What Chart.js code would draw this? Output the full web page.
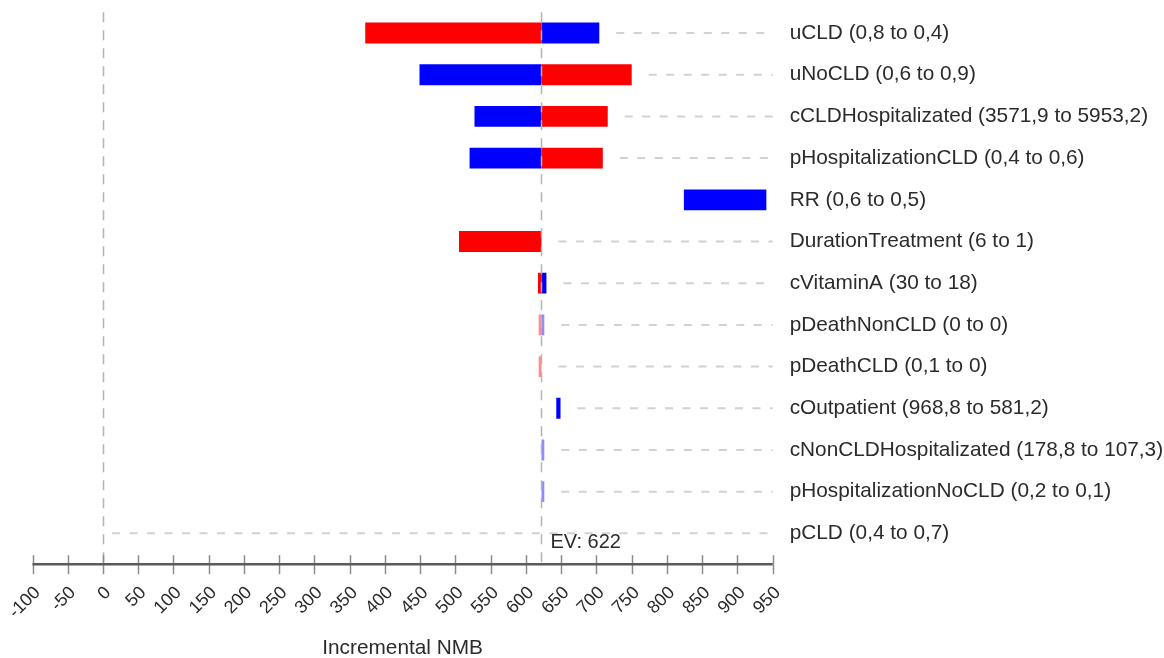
<!DOCTYPE html>
<html>
<head>
<meta charset="utf-8">
<script src="https://cdn.jsdelivr.net/npm/chart.js@4/dist/chart.umd.min.js"></script>
<style>
  html, body { margin: 0; padding: 0; background: #fff; }
  #wrap { width: 1164px; height: 658px; position: relative; }
</style>
</head>
<body>
<div id="wrap"><canvas id="tornado"></canvas></div>
<script>
const categories = [
  'uCLD (0,8 to 0,4)',
  'uNoCLD (0,6 to 0,9)',
  'cCLDHospitalizated (3571,9 to 5953,2)',
  'pHospitalizationCLD (0,4 to 0,6)',
  'RR (0,6 to 0,5)',
  'DurationTreatment (6 to 1)',
  'cVitaminA (30 to 18)',
  'pDeathNonCLD (0 to 0)',
  'pDeathCLD (0,1 to 0)',
  'cOutpatient (968,8 to 581,2)',
  'cNonCLDHospitalizated (178,8 to 107,3)',
  'pHospitalizationNoCLD (0,2 to 0,1)',
  'pCLD (0,4 to 0,7)'
];

const ev = 622;

// red = one end of the range, blue = the other end
const redBars = [
  [372, 622], [622, 750], [622, 716], [622, 709], null, [505, 622],
  [617, 622], [618, 622], [618, 622], null, null, null, null
];
const blueBars = [
  [622, 704], [449, 622], [527, 622], [520, 622], [824, 941], null,
  [622, 629], [622, 626], null, [643, 649], [622, 626], [622, 626], null
];

const xTicks = { min: -100, max: 950, step: 50 };

const FONT = "'Liberation Sans', Arial, sans-serif";
const TEXT = '#2b2b2b';

// very thin bars look washed out in the original
function barColor(rgb) {
  return (ctx) => {
    const v = ctx.raw;
    const span = v ? Math.abs(v[1] - v[0]) : 0;
    return span < 5 ? `rgba(${rgb},0.45)` : `rgb(${rgb})`;
  };
}

const overlay = {
  id: 'overlay',
  beforeDatasetsDraw(chart) {
    const { ctx, chartArea: a, scales: { x, y } } = chart;
    ctx.save();
    // leader lines from the bars to the labels
    ctx.strokeStyle = '#d2d2d2';
    ctx.lineWidth = 2;
    ctx.setLineDash([8, 9.5]);
    categories.forEach((c, i) => {
      const ends = [redBars[i], blueBars[i]].filter(Boolean).flat();
      const yy = y.getPixelForValue(i);
      const x0 = ends.length ? x.getPixelForValue(Math.max(...ends)) + 17 : x.getPixelForValue(0) + 9;
      if (x0 < a.right) {
        ctx.beginPath();
        ctx.moveTo(x0, yy);
        ctx.lineTo(a.right, yy);
        ctx.stroke();
      }
    });
    ctx.restore();
  },
  afterDatasetsDraw(chart) {
    const { ctx, chartArea: a, scales: { x } } = chart;
    const axisY = a.bottom + 10;
    ctx.save();

    // dashed verticals at 0 and at the expected value
    ctx.strokeStyle = '#b4b4b4';
    ctx.lineWidth = 1.5;
    ctx.setLineDash([10, 8]);
    [0, ev].forEach(v => {
      const px = Math.round(x.getPixelForValue(v)) + 0.5;
      ctx.beginPath();
      ctx.moveTo(px, a.top);
      ctx.lineTo(px, axisY);
      ctx.stroke();
    });
    ctx.setLineDash([]);

    // axis line with ticks crossing it
    ctx.strokeStyle = '#8c8c8c';
    ctx.lineWidth = 1.5;
    for (let v = xTicks.min; v <= xTicks.max; v += xTicks.step) {
      const px = Math.round(x.getPixelForValue(v)) + 0.5;
      ctx.beginPath();
      ctx.moveTo(px, axisY - 9);
      ctx.lineTo(px, axisY + 10);
      ctx.stroke();
    }
    ctx.strokeStyle = '#5a5a5a';
    ctx.lineWidth = 2.5;
    ctx.beginPath();
    ctx.moveTo(x.getPixelForValue(xTicks.min), axisY);
    ctx.lineTo(x.getPixelForValue(xTicks.max), axisY);
    ctx.stroke();

    // EV label
    ctx.fillStyle = TEXT;
    ctx.font = `20px ${FONT}`;
    ctx.textAlign = 'left';
    ctx.textBaseline = 'alphabetic';
    ctx.fillText('EV: ' + ev, x.getPixelForValue(ev) + 9, a.bottom - 6);
    ctx.restore();
  }
};

new Chart(document.getElementById('tornado'), {
  type: 'bar',
  data: {
    labels: categories,
    datasets: [
      { label: 'Low', data: redBars, backgroundColor: barColor('255,0,0'), grouped: false },
      { label: 'High', data: blueBars, backgroundColor: barColor('0,0,255'), grouped: false }
    ]
  },
  options: {
    indexAxis: 'y',
    responsive: true,
    maintainAspectRatio: false,
    animation: false,
    layout: { padding: { left: 32.5, top: 12.2, right: 0, bottom: 0 } },
    categoryPercentage: 1,
    barPercentage: 0.5,
    plugins: {
      legend: { display: false },
      tooltip: { enabled: false }
    },
    scales: {
      x: {
        type: 'linear',
        min: xTicks.min,
        max: xTicks.max,
        grid: { display: false, drawTicks: false },
        border: { display: false },
        ticks: {
          stepSize: xTicks.step,
          autoSkip: false,
          minRotation: 45,
          maxRotation: 45,
          padding: 28,
          labelOffset: 5,
          color: TEXT,
          font: { family: FONT, size: 18 }
        },
        title: {
          display: true,
          text: 'Incremental NMB',
          color: TEXT,
          font: { family: FONT, size: 20.8, lineHeight: 1 },
          padding: { top: 0, bottom: -1 }
        },
        afterFit(scale) {
          scale.height = 103.8;
          scale.paddingLeft = 0;
          scale.paddingRight = 0;
        }
      },
      y: {
        type: 'category',
        position: 'right',
        offset: true,
        grid: { display: false, drawTicks: false },
        border: { display: false },
        ticks: {
          autoSkip: false,
          padding: 17,
          color: TEXT,
          font: { family: FONT, size: 20.8 }
        },
        afterFit(scale) {
          scale.width = 391.3;
          scale.paddingTop = 0;
          scale.paddingBottom = 0;
        }
      }
    }
  },
  plugins: [overlay]
});
</script>
</body>
</html>
